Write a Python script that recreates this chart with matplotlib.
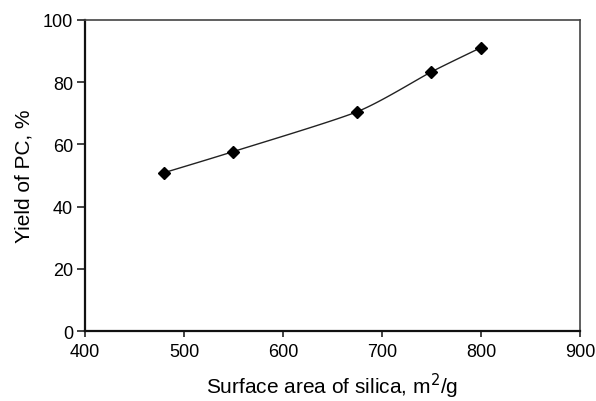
import numpy as np
import matplotlib
matplotlib.use("Agg")
import matplotlib.pyplot as plt

plt.rcParams["font.family"] = ["Liberation Sans", "DejaVu Sans"]

surface_area = [480, 550, 675, 750, 800]   # m2/g
pc_yield = [50.9, 57.7, 70.5, 83.3, 91.1]   # %

x_ticks = [400, 500, 600, 700, 800, 900]
y_ticks = [0, 20, 40, 60, 80, 100]


def smooth_curve(xs, ys, tension=0.7, steps=30):
    """Cardinal spline through the points (a softened, spreadsheet-style smoothed line)."""
    pts = np.column_stack([xs, ys]).astype(float)
    padded = np.vstack([2 * pts[0] - pts[1], pts, 2 * pts[-1] - pts[-2]])
    t = np.linspace(0, 1, steps, endpoint=False)[:, None]
    h00 = 2 * t**3 - 3 * t**2 + 1
    h10 = t**3 - 2 * t**2 + t
    h01 = -2 * t**3 + 3 * t**2
    h11 = t**3 - t**2
    out = []
    for i in range(1, len(padded) - 2):
        p0, p1, p2, p3 = padded[i - 1], padded[i], padded[i + 1], padded[i + 2]
        m1 = tension * (p2 - p0) / 2
        m2 = tension * (p3 - p1) / 2
        out.append(h00 * p1 + h10 * m1 + h01 * p2 + h11 * m2)
    out.append(pts[-1:])
    curve = np.vstack(out)
    return curve[:, 0], curve[:, 1]


fig = plt.figure(figsize=(5.96, 4.02), dpi=100)
ax = fig.add_axes([0.1426, 0.174, 0.8304, 0.774])

cx, cy = smooth_curve(surface_area, pc_yield)
ax.plot(cx, cy, color="#222222", lw=1.0)
ax.plot(surface_area, pc_yield, linestyle="none", marker="D", markersize=6,
        color="black")

ax.set_xlim(400, 900)
ax.set_ylim(0, 100)
ax.set_xticks(x_ticks)
ax.set_yticks(y_ticks)
ax.tick_params(axis="both", direction="out", width=1.2, labelsize=13,
               color="#222222")
ax.tick_params(axis="x", length=4.5, pad=4)
ax.tick_params(axis="y", length=5.5, pad=3)

for side in ("left", "bottom"):
    ax.spines[side].set_linewidth(1.6)
    ax.spines[side].set_color("#111111")
for side in ("top", "right"):
    ax.spines[side].set_linewidth(1.2)
    ax.spines[side].set_color("#444444")

ax.set_xlabel("Surface area of silica, m$^2$/g", fontsize=15, labelpad=8)
ax.set_ylabel("Yield of PC, %", fontsize=15, labelpad=7)

fig.savefig("out.png", dpi=100)
